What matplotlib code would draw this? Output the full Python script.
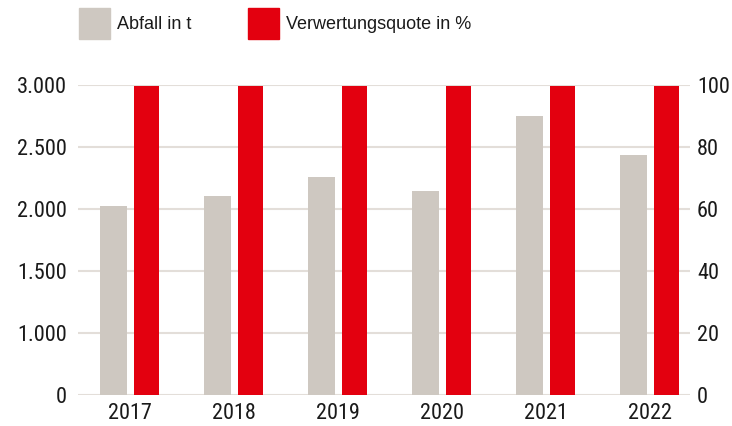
import numpy as np
import matplotlib
matplotlib.use("Agg")
import matplotlib.pyplot as plt
from matplotlib.patches import Rectangle

# Daten
jahre = ["2017", "2018", "2019", "2020", "2021", "2022"]
abfall_t = [2022, 2105, 2259, 2143, 2748, 2438]
quote_pct = [99.7, 99.7, 99.7, 99.7, 99.7, 99.7]
links_ticks = [0, 1000, 1500, 2000, 2500, 3000]
links_labels = ["0", "1.000", "1.500", "2.000", "2.500", "3.000"]
rechts_ticks = [0, 20, 40, 60, 80, 100]
legende = ["Abfall in t", "Verwertungsquote in %"]

grau = "#cec8c1"
rot = "#e3000f"
gitter = "#e3ded9"
schrift = ["Liberation Sans Narrow", "DejaVu Sans Condensed", "Roboto Condensed",
           "Liberation Sans", "DejaVu Sans"]


# Achse ist unten gestaucht: 0-1000 hat dieselbe Hoehe wie 1000-1500
def vorwaerts(v):
    v = np.asarray(v, dtype=float)
    return np.where(v <= 1000, v / 1000, 1 + (v - 1000) / 500)


def rueckwaerts(u):
    u = np.asarray(u, dtype=float)
    return np.where(u <= 1, u * 1000, 1000 + (u - 1) * 500)


fig = plt.figure(figsize=(7.32, 4.26), dpi=100)
ax = fig.add_axes([78 / 732, 31 / 426, 612 / 732, 310 / 426])
ax2 = ax.twinx()

x = np.arange(len(jahre))
b1 = ax.bar(x - 0.16, abfall_t, width=0.26, color=grau, zorder=3)
b2 = ax2.bar(x + 0.16, quote_pct, width=0.245, color=rot, zorder=3)

ax.set_yscale("function", functions=(vorwaerts, rueckwaerts))
ax.set_ylim(0, 3000)
ax2.set_ylim(0, 100)
ax.set_xlim(-0.5, 5.385)

ax.set_yticks(links_ticks)
ax.set_yticklabels(links_labels)
ax.yaxis.set_minor_locator(matplotlib.ticker.NullLocator())
ax2.set_yticks(rechts_ticks)
ax.set_xticks(x)
ax.set_xticklabels(jahre)

ax.grid(axis="y", color=gitter, linewidth=1.5, zorder=0)
ax.set_axisbelow(True)

for a in (ax, ax2):
    for s in a.spines.values():
        s.set_visible(False)
    a.tick_params(length=0, labelsize=16, colors="#1a1a1a")
    for lbl in a.get_xticklabels() + a.get_yticklabels():
        lbl.set_family(schrift)
ax.tick_params(axis="y", pad=8)
ax.tick_params(axis="x", pad=6)
ax2.tick_params(axis="y", pad=5)

# Legende oben (Quadrate + Text)
for (px, farbe, text) in [(79, grau, legende[0]), (248, rot, legende[1])]:
    fig.patches.append(Rectangle((px / 732, 1 - 39 / 426), 31 / 732, 31 / 426,
                                 transform=fig.transFigure, color=farbe))
    fig.text((px + 38) / 732, 1 - 24.5 / 426, text, fontsize=13, color="#1a1a1a",
             va="center", ha="left", family=["Liberation Sans", "DejaVu Sans"])

fig.savefig("out.png", dpi=100)
